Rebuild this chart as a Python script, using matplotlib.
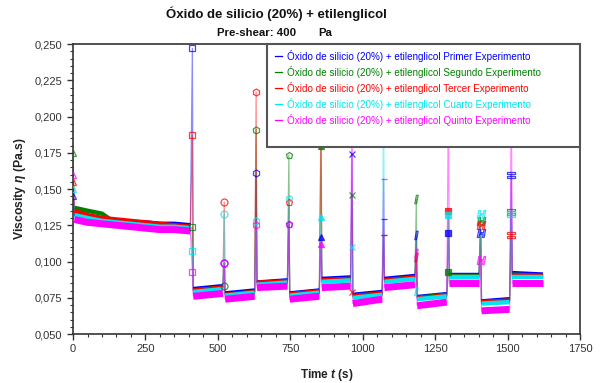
import matplotlib.pyplot as plt
from matplotlib.ticker import MultipleLocator, FuncFormatter
from matplotlib.patches import Rectangle

plt.rcParams['font.family'] = ['Liberation Sans', 'DejaVu Sans']
plt.rcParams['mathtext.fontset'] = 'custom'
plt.rcParams['mathtext.rm'] = 'Liberation Sans:bold'
plt.rcParams['mathtext.it'] = 'Liberation Sans:italic:bold'

# segment times (s): each segment starts with a spike point
seg_start = [0, 412, 522, 632, 745, 856, 963, 1072, 1185, 1296, 1407, 1513]
seg_end = [405, 517, 627, 740, 850, 958, 1067, 1180, 1290, 1401, 1507, 1622]

# first (long) segment read at a few times
seg1_t = [5, 50, 100, 150, 200, 250, 300, 350, 405]

# Primer Experimento (blue)
primer_seg1 = [0.133, 0.131, 0.129, 0.128, 0.127, 0.127, 0.126, 0.126, 0.125]
primer_start = [0.081, 0.078, 0.0855, 0.078, 0.088, 0.077, 0.088, 0.0755, 0.091, 0.0725, 0.092]
primer_end = [0.083, 0.080, 0.087, 0.080, 0.089, 0.079, 0.090, 0.0775, 0.091, 0.074, 0.091]
primer_spike = [0.145, 0.247, 0.099, 0.161, 0.126, 0.117, 0.174, 0.129, 0.118, 0.120, 0.120, 0.160]

# Segundo Experimento (green)
segundo_seg1 = [0.137, 0.135, 0.133, 0.126, 0.124, 0.123, 0.123, 0.122, 0.122]
segundo_start = [0.080, 0.077, 0.085, 0.077, 0.087, 0.076, 0.087, 0.075, 0.090, 0.072, 0.091]
segundo_end = [0.082, 0.079, 0.0865, 0.079, 0.088, 0.078, 0.089, 0.077, 0.090, 0.073, 0.090]
segundo_spike = [0.175, 0.124, 0.083, 0.191, 0.1735, 0.180, 0.146, 0.118, 0.143, 0.093, 0.128, 0.134]

# Tercer Experimento (red)
tercer_seg1 = [0.135, 0.132, 0.130, 0.129, 0.128, 0.127, 0.126, 0.125, 0.124]
tercer_start = [0.080, 0.077, 0.0855, 0.0775, 0.087, 0.076, 0.087, 0.0745, 0.0895, 0.072, 0.0905]
tercer_end = [0.082, 0.079, 0.086, 0.0795, 0.088, 0.078, 0.089, 0.0765, 0.0895, 0.073, 0.090]
tercer_spike = [0.155, 0.187, 0.141, 0.217, 0.141, 0.205, 0.079, 0.118, 0.103, 0.135, 0.125, 0.118]

# Cuarto Experimento (cyan)
cuarto_seg1 = [0.132, 0.130, 0.128, 0.127, 0.126, 0.125, 0.124, 0.124, 0.123]
cuarto_start = [0.079, 0.0765, 0.084, 0.0765, 0.086, 0.075, 0.086, 0.074, 0.089, 0.071, 0.089]
cuarto_end = [0.081, 0.0785, 0.0855, 0.0785, 0.087, 0.077, 0.088, 0.076, 0.089, 0.072, 0.089]
cuarto_spike = [0.150, 0.107, 0.133, 0.128, 0.144, 0.131, 0.110, 0.210, 0.080, 0.132, 0.133, 0.133]

# Quinto Experimento (magenta)
quinto_seg1 = [0.129, 0.127, 0.126, 0.125, 0.124, 0.123, 0.122, 0.122, 0.121]
quinto_start = [0.076, 0.074, 0.082, 0.074, 0.082, 0.071, 0.082, 0.0695, 0.085, 0.066, 0.085]
quinto_end = [0.078, 0.076, 0.083, 0.076, 0.083, 0.074, 0.084, 0.072, 0.085, 0.067, 0.085]
quinto_spike = [0.160, 0.093, 0.099, 0.125, 0.126, 0.112, 0.215, 0.157, 0.106, 0.220, 0.101, 0.220]

labels = ['Óxido de silicio (20%) + etilenglicol Primer Experimento',
          'Óxido de silicio (20%) + etilenglicol Segundo Experimento',
          'Óxido de silicio (20%) + etilenglicol Tercer Experimento',
          'Óxido de silicio (20%) + etilenglicol Cuarto Experimento',
          'Óxido de silicio (20%) + etilenglicol Quinto Experimento']
colors = ['#0000ff', '#008000', '#ff0000', '#00e5ee', '#ff00ff']

# marker used for the spike of each segment, and whether it is filled
seg_markers = ['^', 's', 'o', 'h', 'p', '^', 'x', '_', '$I$', 's', '$H$', '$=$']
seg_filled = [False, False, False, False, False, True, False, False, False, True, False, False]

series = [
    (primer_seg1, primer_start, primer_end, primer_spike),
    (segundo_seg1, segundo_start, segundo_end, segundo_spike),
    (tercer_seg1, tercer_start, tercer_end, tercer_spike),
    (cuarto_seg1, cuarto_start, cuarto_end, cuarto_spike),
    (quinto_seg1, quinto_start, quinto_end, quinto_spike),
]

fig = plt.figure(figsize=(6.03, 3.83), dpi=100)
ax = fig.add_axes([0.1211, 0.1279, 0.8408, 0.7572])

for k, ((seg1, start, end, spike), color) in enumerate(zip(series, colors)):
    # connecting line through all points (gives the vertical spikes)
    t = [seg_start[0]] + seg1_t
    v = [spike[0]] + seg1
    for i in range(1, len(seg_start)):
        t += [seg_start[i], seg_start[i] + 3, seg_end[i]]
        v += [spike[i], start[i - 1], end[i - 1]]
    ax.plot(t, v, color=color, lw=0.9, alpha=0.45, zorder=2 + k * 0.1)

    # dense plateaus drawn as thick bands
    band = 5.0 if k == 4 else 3.2
    ax.plot(seg1_t, seg1, color=color, lw=band, solid_capstyle='butt', zorder=3 + k * 0.1)
    for i in range(1, len(seg_start)):
        ax.plot([seg_start[i] + 3, seg_end[i]], [start[i - 1], end[i - 1]],
                color=color, lw=band, solid_capstyle='butt', zorder=3 + k * 0.1)

    # spike markers
    for i in range(len(seg_start)):
        m = seg_markers[i]
        ax.plot(seg_start[i], spike[i], marker=m, ms=5 if not m.startswith('$') else 6,
                mec=color, mfc=color if seg_filled[i] else 'none', mew=0.9,
                alpha=0.75, ls='none', zorder=4 + k * 0.1)

ax.set_xlim(0, 1750)
ax.set_ylim(0.05, 0.25)
ax.xaxis.set_major_locator(MultipleLocator(250))
ax.xaxis.set_minor_locator(MultipleLocator(50))
ax.yaxis.set_major_locator(MultipleLocator(0.025))
ax.yaxis.set_minor_locator(MultipleLocator(0.005))
ax.yaxis.set_major_formatter(FuncFormatter(lambda y, p: f'{y:.3f}'.replace('.', ',')))
ax.tick_params(which='major', direction='out', length=4, width=1, colors='#333333',
               labelsize=8, labelcolor='#333333')
ax.tick_params(which='minor', direction='out', length=2, width=0.8, colors='#333333')
for s in ax.spines.values():
    s.set_color('#333333')
    s.set_linewidth(1.2)

ax.set_xlabel('Time $t$ (s)', fontsize=8.5, fontweight='bold', color='#222222', labelpad=9)
ax.set_ylabel('Viscosity $\\eta$ (Pa.s)', fontsize=8.8, fontweight='bold', color='#222222', labelpad=5)

fig.text(0.459, 0.963, 'Óxido de silicio (20%) + etilenglicol', ha='center', va='center',
         fontsize=9.5, fontweight='bold', color='#111111')
fig.text(217 / 603, 0.915, 'Pre-shear: 400', ha='left', va='center',
         fontsize=8.2, fontweight='bold', color='#111111')
fig.text(318 / 603, 0.915, 'Pa', ha='left', va='center',
         fontsize=8.2, fontweight='bold', color='#111111')

# legend box, drawn by hand
ax.add_patch(Rectangle((0.383, 0.645), 0.617, 0.355, transform=ax.transAxes,
                       facecolor='white', edgecolor='#555555', lw=1.5, zorder=10, clip_on=False))
leg_y = [0.959, 0.903, 0.848, 0.793, 0.738]
for lab, color, y in zip(labels, colors, leg_y):
    ax.plot([0.398, 0.413], [y, y], color=color, lw=0.9, transform=ax.transAxes, zorder=11)
    ax.text(0.423, y, lab, color=color, fontsize=7.1, va='center', ha='left',
            transform=ax.transAxes, zorder=11)

fig.savefig('out.png', dpi=100, facecolor='white')
